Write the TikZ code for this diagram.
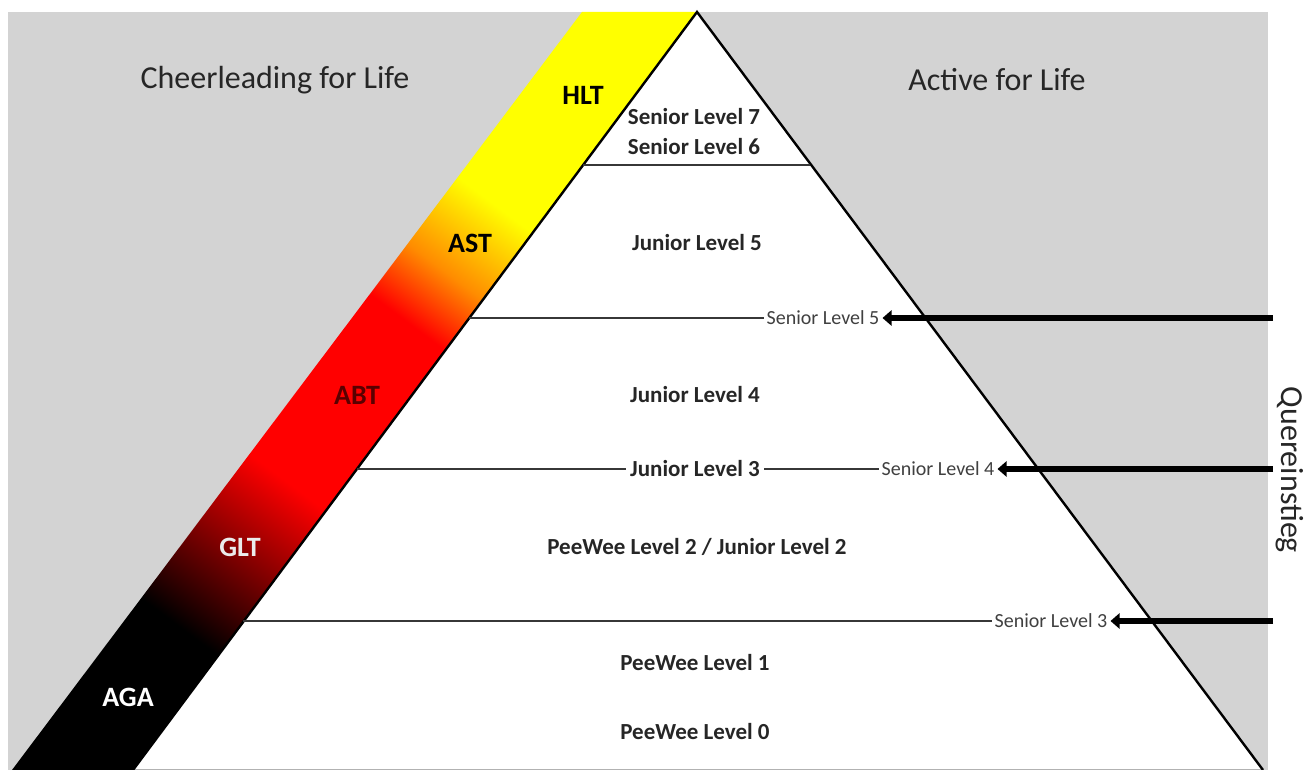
\documentclass[tikz,border=0pt]{standalone}
\usepackage{fontspec}
\setmainfont{Carlito}
\usetikzlibrary{arrows.meta,calc}

\definecolor{panelgrey}{RGB}{211,211,211}
\definecolor{titlegrey}{RGB}{38,38,38}
\definecolor{rulegrey}{RGB}{55,55,55}
\definecolor{labelgrey}{RGB}{64,64,64}
\definecolor{amber}{RGB}{255,140,0}

% colour ramp along the diagonal band (black -> red -> orange -> yellow)
\pgfdeclarehorizontalshading{bandramp}{300bp}{%
  color(0bp)=(black); color(230bp)=(black);
  color(410bp)=(red); color(609bp)=(red);
  color(672bp)=(amber); color(755bp)=(yellow);
  color(1047bp)=(yellow)}

\tikzset{
  title/.style={font=\fontsize{32}{36}\selectfont, text=titlegrey},
  level/.style={font=\bfseries\fontsize{23}{26}\selectfont, text=black!85, inner sep=4pt},
  entry/.style={font=\fontsize{20}{22}\selectfont, text=labelgrey, inner sep=3pt},
  tag/.style={font=\bfseries\fontsize{28}{30}\selectfont},
  edge/.style={line width=2.4pt, black},
  rule/.style={line width=1.8pt, rulegrey},
  entryarrow/.style={line width=6.5pt, -{Triangle[length=9pt,width=15pt]}}
}

\begin{document}
\begin{tikzpicture}[x=1pt,y=1pt]
  \useasboundingbox (0,0) rectangle (1309,770);
  \fill[white] (0,0) rectangle (1309,770);
  \fill[panelgrey] (8,0) rectangle (1268,758);

  % pyramid corners
  \coordinate (apex) at (697,758);
  \coordinate (bl) at (133,0);
  \coordinate (br) at (1263,0);
  \fill[white] (bl) -- (apex) -- (br) -- cycle;

  % diagonal band
  \begin{scope}
    \clip (12,0) -- (bl) -- (apex) -- (582,758) -- cycle;
    \node[rotate=53.16, inner sep=0pt] at (356,379) {\pgfuseshading{bandramp}};
  \end{scope}

  \draw[line width=1pt, black!30] (bl) -- (br);
  \draw[edge] (bl) -- (apex) -- (br);

  % band tags
  \node[tag, text=black] (hlt) at (583,675) {HLT};
  \node[tag, text=black] (ast) at (470,527) {AST};
  \node[tag, text={rgb,255:red,90;green,0;blue,0}] (abt) at (357,375) {ABT};
  \node[tag, text=white!92!black] (glt) at (240,223) {GLT};
  \node[tag, text=white] (aga) at (128,73) {AGA};

  % titles
  \node[title] (cfl) at (275,690) {Cheerleading for Life};
  \node[title] (afl) at (997,690) {Active for Life};
  \node[title, rotate=-90] (quer) at (1290,300) {Quereinstieg};

  % levels inside the pyramid
  \node[level] (s7) at (694,653) {Senior Level 7};
  \node[level] (s6) at (694,623) {Senior Level 6};
  \node[level] (j5) at (697,527) {Junior Level 5};
  \node[level] (j4) at (695,375) {Junior Level 4};
  \node[level] (j3) at (695,301) {Junior Level 3};
  \node[level] (p2) at (697,223) {PeeWee Level 2 / Junior Level 2};
  \node[level] (p1) at (695,107) {PeeWee Level 1};
  \node[level] (p0) at (695,38) {PeeWee Level 0};

  % entry labels
  \node[entry] (e5) at (823,452) {Senior Level 5};
  \node[entry] (e4) at (938,301) {Senior Level 4};
  \node[entry] (e3) at (1051,149) {Senior Level 3};

  % tier rules
  \coordinate (r6l) at (583,605);
  \coordinate (r6r) at (810,605);
  \coordinate (r5l) at (469,452);
  \coordinate (r4l) at (357,301);
  \coordinate (r3l) at (243,149);
  \draw[rule] (r6l) -- (r6r);
  \draw[rule] (r5l) -- (e5.west);
  \draw[rule] (r4l) -- (j3.west);
  \draw[rule] (j3.east) -- (e4.west);
  \draw[rule] (r3l) -- (e3.west);

  % lateral entry arrows
  \coordinate (q5) at (1273,452);
  \coordinate (q4) at (1273,301);
  \coordinate (q3) at (1273,149);
  \draw[entryarrow] (q5) -- (e5.east);
  \draw[entryarrow] (q4) -- (e4.east);
  \draw[entryarrow] (q3) -- (e3.east);
\end{tikzpicture}
\end{document}
